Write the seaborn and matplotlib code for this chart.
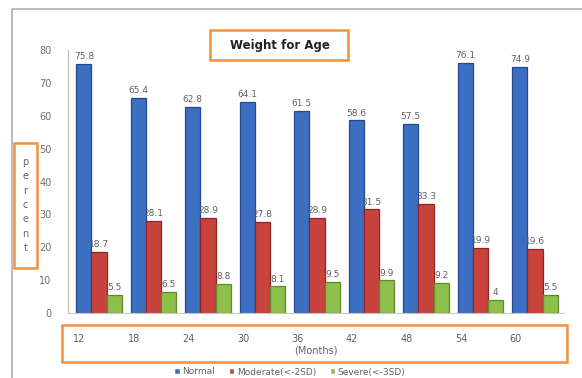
import matplotlib
matplotlib.use("Agg")
import matplotlib.pyplot as plt
from matplotlib.patches import Rectangle
from matplotlib.lines import Line2D
import seaborn as sns
import pandas as pd

# Age groups (months) and prevalence (%) per nutritional status
ages = ["12", "18", "24", "30", "36", "42", "48", "54", "60"]
normal = [75.8, 65.4, 62.8, 64.1, 61.5, 58.6, 57.5, 76.1, 74.9]
moderate = [18.7, 28.1, 28.9, 27.8, 28.9, 31.5, 33.3, 19.9, 19.6]
severe = [5.5, 6.5, 8.8, 8.1, 9.5, 9.9, 9.2, 4, 5.5]
series_names = ["Normal", "Moderate(<-2SD)", "Severe(<-3SD)"]
y_ticks = [0, 10, 20, 30, 40, 50, 60, 70, 80]

df = pd.DataFrame({
    "Age": ages * 3,
    "Percent": normal + moderate + severe,
    "Status": [series_names[0]] * 9 + [series_names[1]] * 9 + [series_names[2]] * 9,
})

sns.set_style("white")
plt.rcParams["font.family"] = ["DejaVu Sans"]

W, H = 582, 378
fig = plt.figure(figsize=(W / 100, H / 100), dpi=100)
ax = fig.add_axes([68 / W, 1 - 313 / H, (564 - 68) / W, (313 - 50) / H])

colors = ["#3C6EC2", "#C9433D", "#8DBF4A"]
edges = ["#24498C", "#8E2522", "#5E8A2A"]
sns.barplot(data=df, x="Age", y="Percent", hue="Status", order=ages,
            hue_order=series_names, palette=colors, saturation=1,
            width=0.84, gap=0, ax=ax, legend=True)

for cont, ec in zip(ax.containers, edges):
    for bar in cont:
        bar.set_edgecolor(ec)
        bar.set_linewidth(0.9)
    ax.bar_label(cont, labels=[f"{b.get_height():g}" for b in cont],
                 padding=2, fontsize=6.5, color="#606060")

ax.set_ylim(0, 80)
ax.set_yticks(y_ticks)
ax.set_yticklabels([str(t) for t in y_ticks], fontsize=7, color="#707070")
ax.set_xlim(-0.57, 8.53)
ax.set_xticks([i - 0.36 for i in range(len(ages))])
ax.set_xticklabels(ages, fontsize=7, color="#606060")
ax.tick_params(axis="x", length=0, pad=15)
ax.tick_params(axis="y", length=0, pad=12)
ax.set_xlabel("(Months)", fontsize=7, color="#606060", labelpad=1)
ax.set_ylabel("")
for s in ["top", "right"]:
    ax.spines[s].set_visible(False)
ax.spines["left"].set_color("#BBBBBB")
ax.spines["left"].set_linewidth(0.8)
ax.spines["bottom"].set_color("#C8C8C8")
ax.spines["bottom"].set_linewidth(0.8)

# Legend along the bottom edge
handles, labels = ax.get_legend_handles_labels()
ax.legend_.remove()
fig.legend(handles, labels, loc="center", bbox_to_anchor=(290 / W, 1 - 372 / H),
           ncol=3, fontsize=6.5, frameon=False, handlelength=0.6,
           handleheight=0.6, columnspacing=1.5, handletextpad=0.3,
           labelcolor="#606060", borderpad=0, borderaxespad=0)

orange = "#F0913F"
def fig_box(x0, y0, x1, y1):
    fig.patches.append(Rectangle((x0 / W, 1 - y1 / H), (x1 - x0) / W, (y1 - y0) / H,
                                 transform=fig.transFigure, fill=False,
                                 edgecolor=orange, linewidth=1.8, zorder=5))

# Title box
fig_box(210, 30, 348, 60)
fig.text(280 / W, 1 - 45 / H, "Weight for Age", ha="center", va="center",
         fontsize=8.5, fontweight="bold", color="#222222")

# Vertical axis title box
fig_box(14, 143, 37, 268)
fig.text(25.5 / W, 1 - 205 / H, "p\ne\nr\nc\ne\nn\nt", ha="center", va="center",
         fontsize=7, color="#666666", linespacing=1.55)

# Category axis box
fig_box(62, 325, 567, 362)

# Outer chart border
fig.lines.append(Line2D([12 / W, 12 / W, 1], [0, 1 - 9 / H, 1 - 9 / H],
                        transform=fig.transFigure, color="#B0B0B0", linewidth=1.2))

fig.savefig("out.png", dpi=100)
